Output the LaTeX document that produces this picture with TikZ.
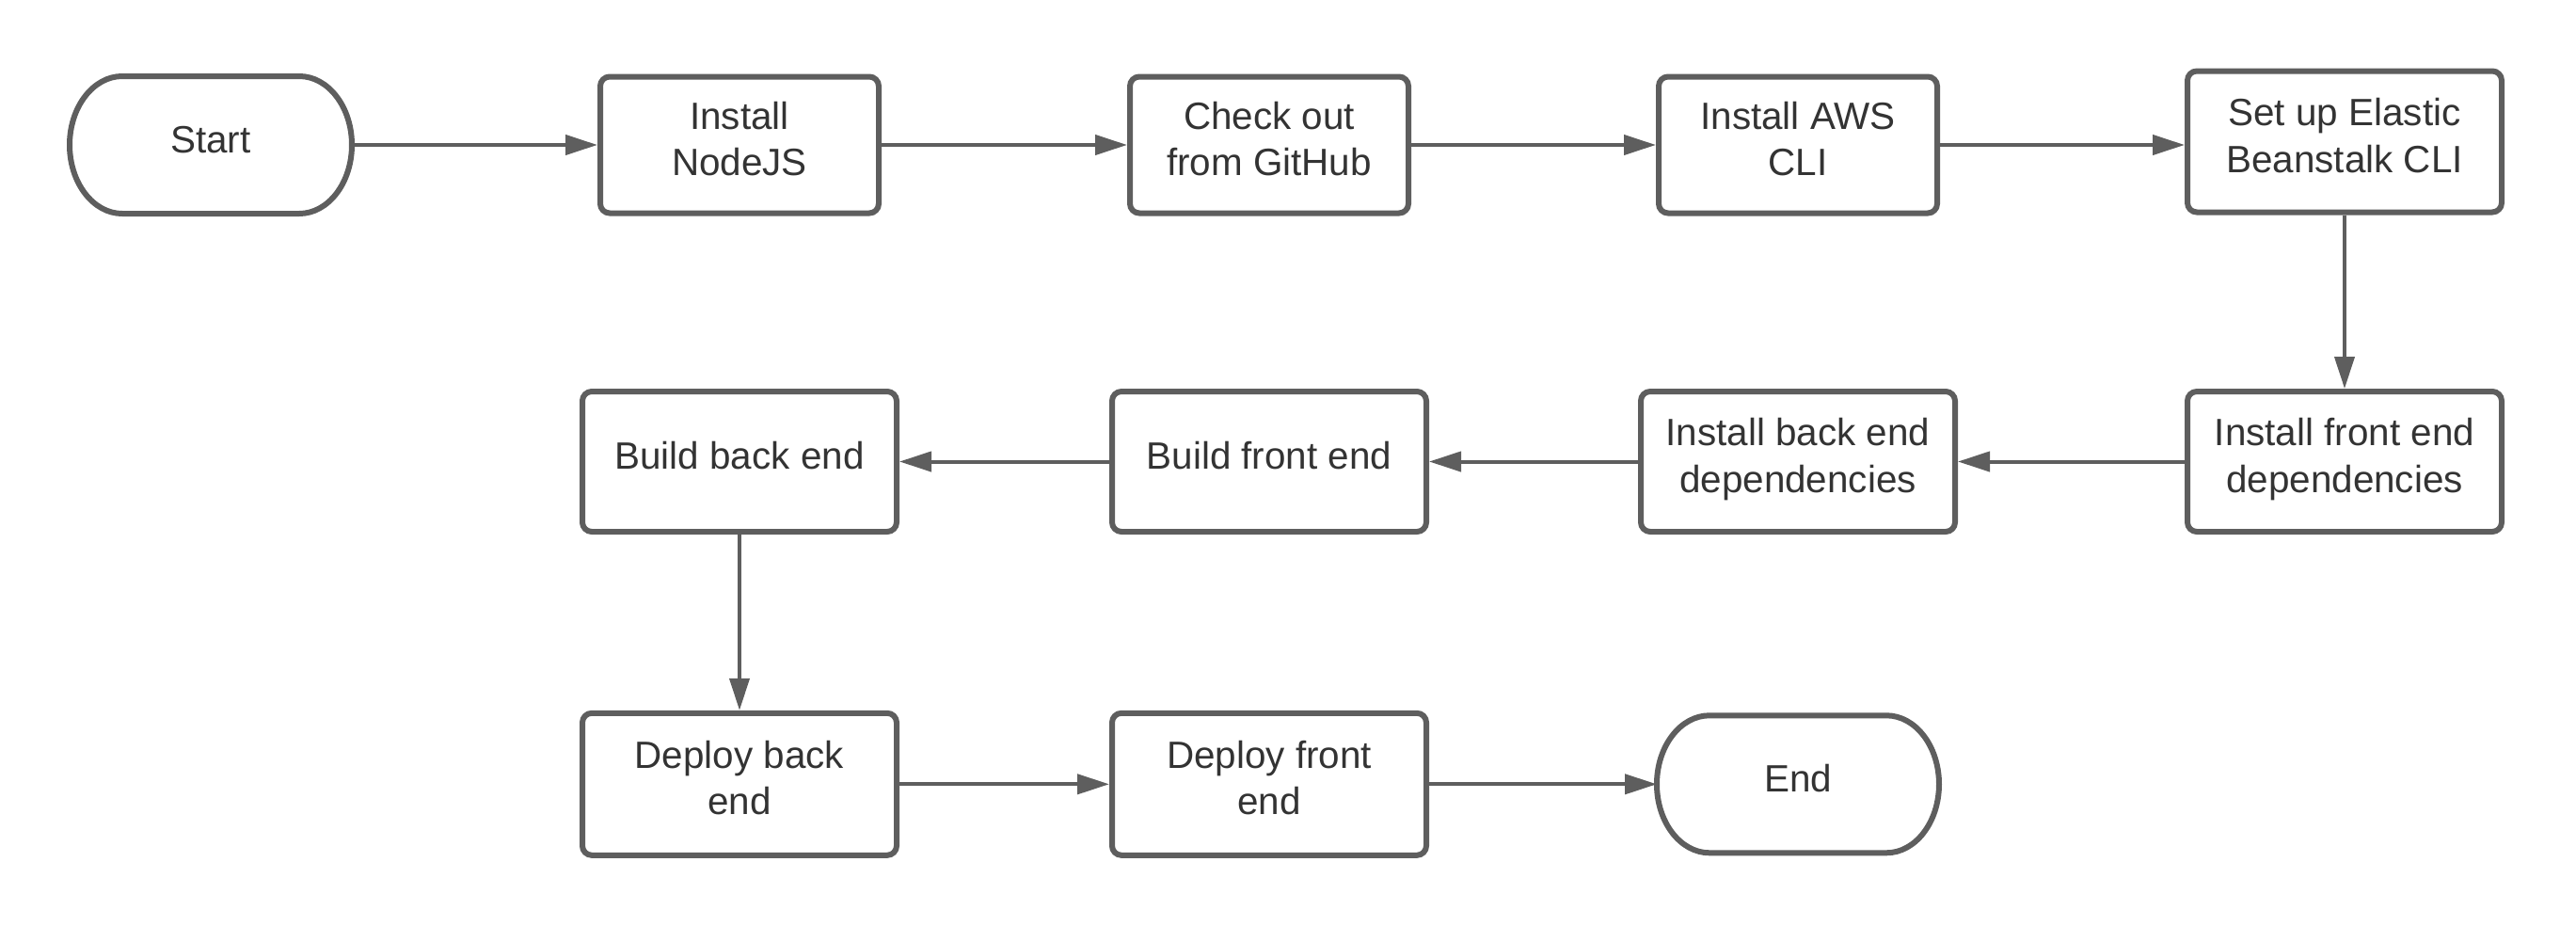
\documentclass[tikz,border=0pt]{standalone}
\usepackage{fontspec}
\setmainfont{Liberation Sans}
\usepackage{xcolor}
\usetikzlibrary{arrows.meta}
\definecolor{linegray}{HTML}{5E5E5E}
\definecolor{textgray}{HTML}{333333}
\newsavebox{\labelbox}
% text block, set a little above the box centre
\newcommand{\boxtext}[1]{\sbox{\labelbox}{\begin{tabular}{@{}c@{}}#1\end{tabular}}%
    \dp\labelbox=\dimexpr\dp\labelbox+1pt\relax\usebox{\labelbox}}

\begin{document}
\begin{tikzpicture}[
    box/.style={draw=linegray, line width=0.06cm, rounded corners=0.1cm, minimum width=2.96cm, minimum height=1.45cm, text=textgray, font=\fontsize{11.5}{14}\selectfont},
    widebox/.style={box, minimum width=3.34cm, minimum height=1.49cm},
    terminal/.style={box, draw=none, outer sep=0pt, minimum width=3.0cm, minimum height=1.46cm},
    flow/.style={draw=linegray, line width=0.04cm, -{Triangle[length=0.34cm,width=0.21cm]}}
]
    % Canvas
    \useasboundingbox (0,0) rectangle (27.38,-9.84);

    % First row
    \node[terminal] (start) at (2.24,-1.54) {\boxtext{Start}};
    \node[box] (nodejs) at (7.86,-1.54) {\boxtext{Install\\NodeJS}};
    \node[box] (github) at (13.49,-1.54) {\boxtext{Check out\\from GitHub}};
    \node[box] (aws) at (19.11,-1.54) {\boxtext{Install AWS\\CLI}};
    \node[widebox, minimum height=1.50cm] (eb) at (24.92,-1.505) {\boxtext{Set up Elastic\\Beanstalk CLI}};

    % Second row
    \node[widebox] (ifront) at (24.92,-4.905) {\boxtext{Install front end\\dependencies}};
    \node[widebox] (iback) at (19.11,-4.905) {\boxtext{Install back end\\dependencies}};
    \node[widebox] (bfront) at (13.49,-4.905) {\boxtext{Build front end}};
    \node[widebox] (bback) at (7.86,-4.905) {\boxtext{Build back end}};

    % Third row
    \node[widebox, minimum height=1.51cm] (dback) at (7.86,-8.333) {\boxtext{Deploy back\\end}};
    \node[widebox, minimum height=1.51cm] (dfront) at (13.49,-8.333) {\boxtext{Deploy front\\end}};
    \node[terminal] (finish) at (19.11,-8.333) {\boxtext{End}};

    % Terminal outlines
    \foreach \t in {start,finish}
        \draw[draw=linegray, line width=0.06cm] ([xshift=0.56cm]\t.north west) -- ([xshift=-0.56cm]\t.north east)
            arc[start angle=90, end angle=-90, x radius=0.56cm, y radius=0.73cm]
            -- ([xshift=0.56cm]\t.south west)
            arc[start angle=270, end angle=90, x radius=0.56cm, y radius=0.73cm] -- cycle;

    % Connectors
    \draw[flow] (start) -- (nodejs);
    \draw[flow] (nodejs) -- (github);
    \draw[flow] (github) -- (aws);
    \draw[flow] (aws) -- (aws -| eb.west);
    \draw[flow] (eb) -- (ifront);
    \draw[flow] (ifront) -- (iback);
    \draw[flow] (iback) -- (bfront);
    \draw[flow] (bfront) -- (bback);
    \draw[flow] (bback) -- (dback);
    \draw[flow] (dback) -- (dfront);
    \draw[flow] (dfront) -- (finish);
\end{tikzpicture}
\end{document}
